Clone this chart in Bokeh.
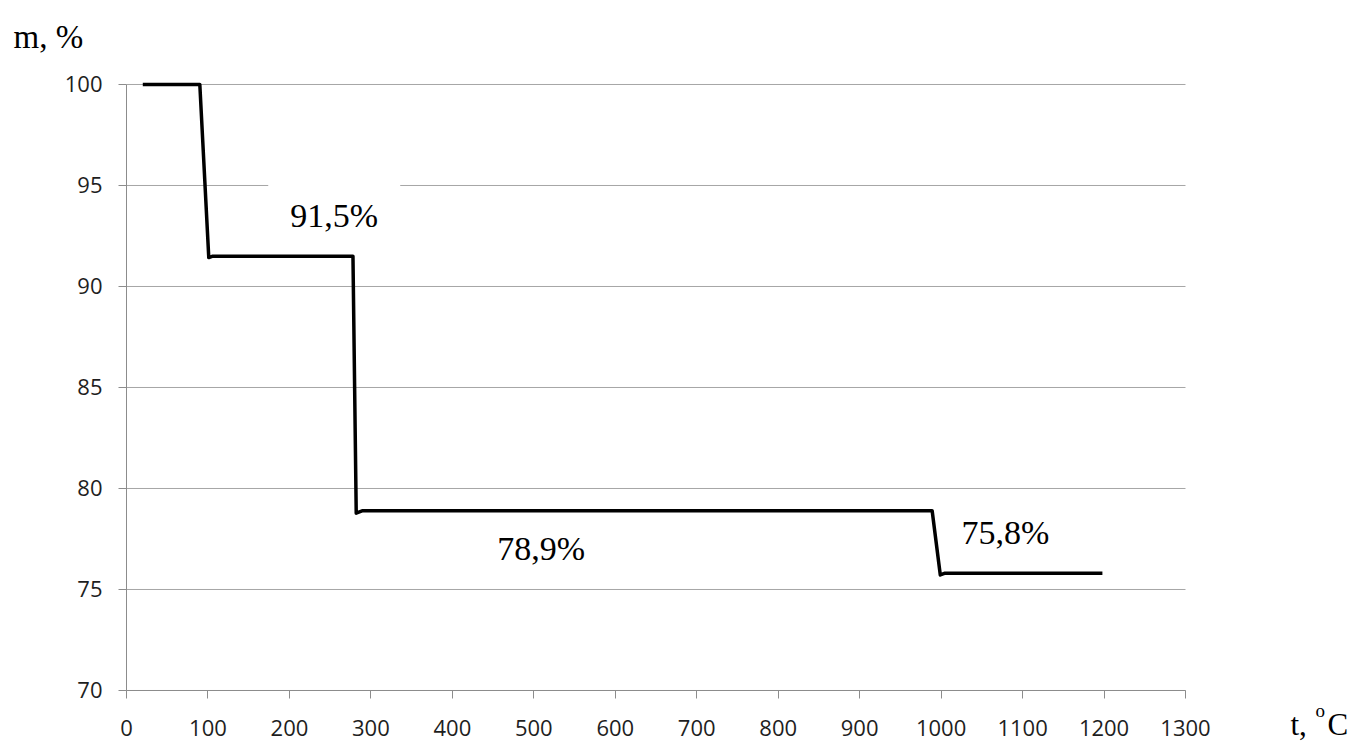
from bokeh.plotting import figure
from bokeh.models import Range1d, Label, FixedTicker
from bokeh.core.properties import value
from bokeh.embed import file_html
from bokeh.resources import INLINE

# Data: temperature (°C) vs. mass (%)
temp = [20, 90, 101, 106, 278, 282, 290, 989, 999, 1004, 1198]
mass = [100, 100, 91.43, 91.5, 91.5, 78.78, 78.9, 78.9, 75.72, 75.8, 75.8]

label_text = ["91,5%", "78,9%", "75,8%"]
label_x = [255, 509, 1079]
label_y = [93.5, 77.03, 77.82]

x_ticks = list(range(0, 1301, 100))
y_ticks = [70, 75, 80, 85, 90, 95, 100]
x_min, x_max = 0, 1300
y_min, y_max = 70, 100

# The frame covers the whole canvas so that titles outside the axes are not clipped;
# axes are pinned at x=0 / y=70 with bounds.
p = figure(width=1353, height=743, output_backend="svg", toolbar_location=None,
           x_range=Range1d(-154.675, 1506.24), y_range=Range1d(67.376, 104.158),
           min_border=0, min_border_left=0, min_border_right=0,
           min_border_top=0, min_border_bottom=0)
p.outline_line_color = None
p.background_fill_color = "white"
p.border_fill_color = "white"
p.xgrid.visible = False
p.ygrid.visible = False

xa = p.xaxis[0]
ya = p.yaxis[0]
xa.fixed_location = y_min
ya.fixed_location = x_min
xa.bounds = (x_min, x_max)
ya.bounds = (y_min, y_max)
for ax, ticks in ((xa, x_ticks), (ya, y_ticks)):
    ax.ticker = FixedTicker(ticks=ticks)
    ax.axis_line_color = "#8c8c8c"
    ax.axis_line_width = 1
    ax.major_tick_line_color = "#8c8c8c"
    ax.major_tick_out = 8
    ax.major_tick_in = 0
    ax.minor_tick_line_color = None
    ax.major_label_text_font = "Open Sans"
    ax.major_label_text_font_size = "22px"
    ax.major_label_text_color = "#1e1e1e"
xa.major_label_standoff = 22
ya.major_label_standoff = 16

# Horizontal grid lines between the axis bounds
p.segment(x0=[x_min] * len(y_ticks), x1=[x_max] * len(y_ticks),
          y0=y_ticks, y1=y_ticks, line_color="#a6a6a6", line_width=1)

# White boxes behind the value labels (they hide the grid, not the curve)
p.rect(x=label_x, y=label_y, width=132, height=70,
       width_units="screen", height_units="screen",
       fill_color="white", line_color=None)

p.text(x=label_x, y=label_y, text=label_text,
       text_font=value("Liberation Serif"), text_font_size="34px",
       text_color="black", text_align="center", text_baseline="middle")

p.line(temp, mass, line_color="black", line_width=3.5, line_join="round")

# Axis titles
p.add_layout(Label(x=-138.7, y=102.33, text="m, %", text_font="Liberation Serif",
                   text_font_size="33px", text_color="black",
                   text_align="left", text_baseline="alphabetic"))
p.add_layout(Label(x=1428.9, y=68.32, text="t,", text_font="Liberation Serif",
                   text_font_size="31px", text_color="black",
                   text_align="left", text_baseline="alphabetic"))
p.add_layout(Label(x=1459.6, y=69.01, text="o", text_font="Liberation Serif",
                   text_font_size="19px", text_color="black",
                   text_align="left", text_baseline="alphabetic"))
p.add_layout(Label(x=1474.3, y=68.32, text="C", text_font="Liberation Serif",
                   text_font_size="31px", text_color="black",
                   text_align="left", text_baseline="alphabetic"))

open("out.html", "w").write(file_html(p, INLINE))
